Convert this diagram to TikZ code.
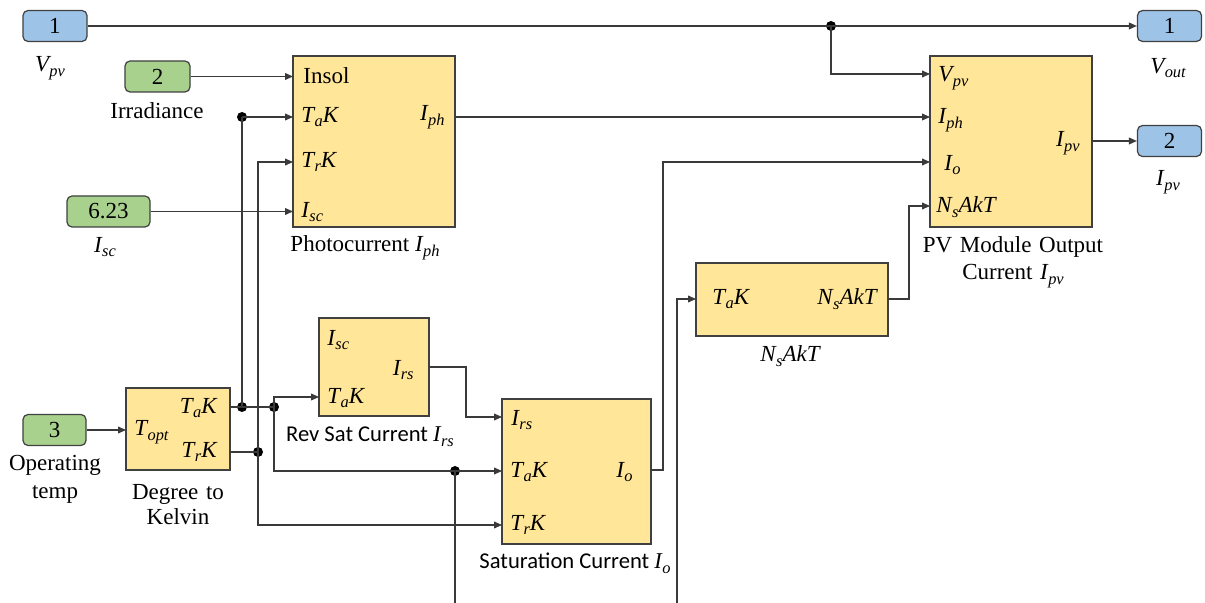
\documentclass[tikz,border=0pt]{standalone}
\usepackage{fontspec}
\setmainfont{Liberation Serif}
\newfontfamily\calibri{Carlito}
\newfontfamily\tnr{Liberation Serif}
\usetikzlibrary{arrows.meta,calc}
\definecolor{portblue}{HTML}{9DC3E6}
\definecolor{portgreen}{HTML}{A9D18E}
\definecolor{blockyellow}{HTML}{FFE699}
\definecolor{edgegray}{HTML}{404040}
\definecolor{wiregray}{HTML}{3A3A3A}
\newcommand\mi[1]{{\tnr\itshape #1}}
\newcommand\ms[2]{{\tnr\itshape #1\kern0.2pt\raisebox{-0.45ex}{\fontsize{8.2}{9}\selectfont #2}}}
\begin{document}
\begin{tikzpicture}[x=0.5pt,y=-0.5pt,
  every node/.style={font=\tnr\fontsize{11.5}{13.5}\selectfont},
  port/.style={draw=edgegray, line width=0.6pt, rounded corners=2.5pt, inner sep=0pt, minimum height=15.5pt},
  bport/.style={port, fill=portblue, minimum width=32pt},
  gport/.style={port, fill=portgreen},
  blockbox/.style={draw=edgegray, line width=0.6pt, fill=blockyellow, inner sep=0pt},
  wire/.style={draw=wiregray, line width=0.6pt},
  arr/.style={wire, -{Triangle[length=4pt,width=3.4pt]}},
  jdot/.style={circle, fill=black, inner sep=0pt, minimum size=5pt},
  pin/.style={inner sep=0pt, anchor=west},
  pout/.style={inner sep=0pt, anchor=east},
  lbl/.style={inner sep=0pt, align=center},
  slbl/.style={inner sep=0pt, align=center, font=\calibri\fontsize{11.3}{13.5}\selectfont}
]
\useasboundingbox (0,0) rectangle (1205,603);

% ports
\node[bport] (in1) at (55,26) {1};
\node[gport, minimum width=32.5pt] (in2) at (157.5,76.5) {2};
\node[gport, minimum width=41.5pt] (isc) at (108.5,211.5) {6.23};
\node[gport, minimum width=31.5pt] (in3) at (54.5,430) {3};
\node[bport] (out1) at (1169.5,26) {1};
\node[bport] (out2) at (1169.5,141) {2};

% port labels
\node[lbl] (lin1) at (50,68) {\ms{V}{pv}};
\node[lbl] (lin2) at (157,111) {Irradiance};
\node[lbl] (lisc) at (105,247) {\ms{I}{sc}};
\node[lbl, text width=60pt] (lin3) at (55,479) {Operating\\[0.5pt]temp};
\node[lbl] (lout1) at (1168,68) {\ms{V}{out}};
\node[lbl] (lout2) at (1168,182) {\ms{I}{pv}};

% blocks
\node[blockbox, minimum width=81pt, minimum height=85.5pt] (photo) at (374,141.5) {};
\node[blockbox, minimum width=52pt, minimum height=41pt] (deg) at (178,429) {};
\node[blockbox, minimum width=55pt, minimum height=49pt] (rev) at (374,367) {};
\node[blockbox, minimum width=74.5pt, minimum height=72.5pt] (sat) at (576.5,471.5) {};
\node[blockbox, minimum width=96pt, minimum height=36.5pt] (nsak) at (792,299.5) {};
\node[blockbox, minimum width=81pt, minimum height=85.5pt] (pv) at (1011,141.5) {};

% block labels
\node[lbl] (lphoto) at (365,248) {Photocurrent \ms{I}{ph}};
\node[lbl, text width=60pt] (ldeg) at (178,505) {Degree to\\[-1pt]Kelvin};
\node[slbl] (lrev) at (370,437) {Rev Sat Current \ms{I}{rs}};
\node[slbl] (lsat) at (575,563) {Saturation Current \ms{I}{o}};
\node[lbl] (lnsak) at (790,356) {\ms{N}{s}\mi{AkT}};
\node[lbl, text width=110pt] (lpv) at (1013,262) {PV Module Output\\[0pt]Current \ms{I}{pv}};

% port texts inside blocks
\node[pin] (tphIns) at (303,76) {Insol};
\node[pin] (tphTa) at (301,117) {\ms{T}{a}\mi{K}};
\node[pin] (tphTr) at (301,162) {\ms{T}{r}\mi{K}};
\node[pin] (tphIsc) at (301,212) {\ms{I}{sc}};
\node[pout] (tphIph) at (445,117) {\ms{I}{ph}};
\node[pin] (tdegT) at (134,432) {\ms{T}{opt}};
\node[pout] (tdegTa) at (217,408) {\ms{T}{a}\mi{K}};
\node[pout] (tdegTr) at (217,452) {\ms{T}{r}\mi{K}};
\node[pin] (trevIsc) at (327,340) {\ms{I}{sc}};
\node[pout] (trevIrs) at (414,370) {\ms{I}{rs}};
\node[pin] (trevTa) at (327,398) {\ms{T}{a}\mi{K}};
\node[pin] (tsatIrs) at (511,420) {\ms{I}{rs}};
\node[pin] (tsatTa) at (510,472) {\ms{T}{a}\mi{K}};
\node[pin] (tsatTr) at (510,525) {\ms{T}{r}\mi{K}};
\node[pout] (tsatIo) at (633,472) {\ms{I}{o}};
\node[pin] (tnsTa) at (712,299) {\ms{T}{a}\mi{K}};
\node[pout] (tnsOut) at (877,299) {\ms{N}{s}\mi{AkT}};
\node[pin] (tpvV) at (938,78) {\ms{V}{pv}};
\node[pin] (tpvIph) at (938,120) {\ms{I}{ph}};
\node[pin] (tpvIo) at (944,165) {\ms{I}{o}};
\node[pin] (tpvN) at (936,207) {\ms{N}{s}\mi{AkT}};
\node[pout] (tpvIpv) at (1080,143) {\ms{I}{pv}};

% port coordinates
\coordinate (phIn) at (293,76.5);
\coordinate (phTa) at (293,117);
\coordinate (phTr) at (293,162);
\coordinate (phIsc) at (293,211.5);
\coordinate (phOut) at (455,117);
\coordinate (degIn) at (126,430);
\coordinate (degTa) at (230,407);
\coordinate (degTr) at (230,452);
\coordinate (revTa) at (319,397);
\coordinate (revOut) at (429,367);
\coordinate (satIrs) at (502,417);
\coordinate (satTa) at (502,471);
\coordinate (satTr) at (502,525);
\coordinate (satOut) at (651,470);
\coordinate (nsTa) at (696,299);
\coordinate (nsOut) at (888,299);
\coordinate (pvV) at (930,74);
\coordinate (pvIph) at (930,117);
\coordinate (pvIo) at (930,162);
\coordinate (pvN) at (930,206);
\coordinate (pvOut) at (1092,141);
\coordinate (loopA) at (455,603);
\coordinate (loopB) at (677,603);

% junction dots
\node[jdot] (jV) at (831,26) {};
\node[jdot] (jA0) at (242,117) {};
\node[jdot] (jA1) at (242,407) {};
\node[jdot] (jA2) at (274,407) {};
\node[jdot] (jA3) at (455,471) {};
\node[jdot] (jR) at (258,452) {};

% connectors
\draw[wire] (in1.east) -- (jV.center);
\draw[arr] (jV.center) -- (out1.west);
\draw[arr] (jV.center) |- (pvV);
\draw[arr] (in2.east) -- (phIn);
\draw[arr] (isc.east) -- (phIsc);
\draw[arr] (in3.east) -- (degIn);
\draw[arr] (phOut) -- (pvIph);
\draw[wire] (degTa) -- (jA2.center);
\draw[wire] (jA1.center) -- (jA0.center);
\draw[arr] (jA0.center) -- (phTa);
\draw[arr] (jA2.center) |- (revTa);
\draw[arr] (jA2.center) |- (satTa);
\draw[wire] (jA3.center) -- (loopA);
\draw[arr] (loopB) |- (nsTa);
\draw[wire] (degTr) -- (jR.center);
\draw[arr] (jR.center) |- (phTr);
\draw[arr] (jR.center) |- (satTr);
\draw[arr] (revOut) -- ++(37,0) |- (satIrs);
\draw[arr] (satOut) -- ++(12,0) |- (pvIo);
\draw[arr] (nsOut) -- ++(21,0) |- (pvN);
\draw[arr] (pvOut) -- (out2.west);
\end{tikzpicture}
\end{document}
